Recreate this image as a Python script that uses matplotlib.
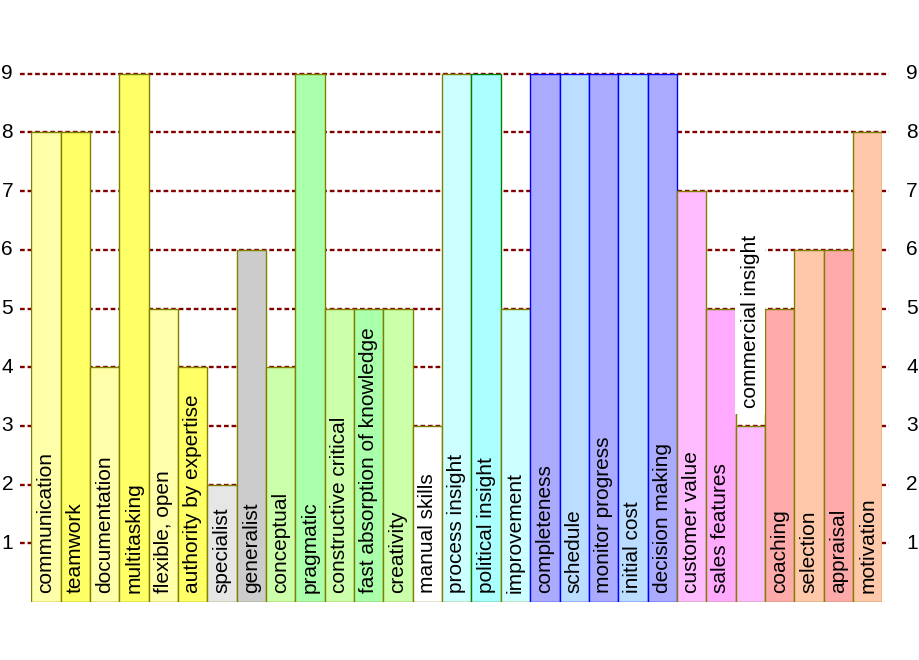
import matplotlib
matplotlib.use("Agg")
import matplotlib.pyplot as plt

# Skills and scores (0-9)
skills = ["communication", "teamwork", "documentation", "multitasking",
          "flexible, open", "authority by expertise", "specialist",
          "generalist", "conceptual", "pragmatic", "constructive critical",
          "fast absorption of knowledge", "creativity", "manual skills",
          "process insight", "political insight", "improvement",
          "completeness", "schedule", "monitor progress", "initial cost",
          "decision making", "customer value", "sales features",
          "commercial insight", "coaching", "selection", "appraisal",
          "motivation"]
scores = [8, 8, 4, 9, 5, 4, 2, 6, 4, 9, 5, 5, 5, 3, 9, 9, 5,
          9, 9, 9, 9, 9, 7, 5, 3, 5, 6, 6, 8]
fills = ["#FFFFAA", "#FFFF66", "#FFFFAA", "#FFFF66", "#FFFFAA", "#FFFF66",
         "#E6E6E6", "#CCCCCC", "#CCFFAA", "#AAFFAA", "#CCFFAA", "#AAFFAA",
         "#CCFFAA", "#FFFFFF", "#CCFFFF", "#AAFFFF", "#CCFFFF",
         "#AAAAFF", "#BBDDFF", "#AAAAFF", "#BBDDFF", "#AAAAFF",
         "#FFBBFF", "#FFAAFF", "#FFBBFF", "#FFAAAA", "#FFC8AA", "#FFAAAA",
         "#FFC8AA"]
edges = ["#808000"] * 15 + ["#008000", "#808000"] + ["#0000FF"] * 5 + ["#808000"] * 7
yticks = [1, 2, 3, 4, 5, 6, 7, 8, 9]

plt.rcParams["font.family"] = ["Liberation Sans", "DejaVu Sans"]

fig = plt.figure(figsize=(9.2, 6.6), dpi=100)
ax = fig.add_axes([31.3 / 920, 58 / 660, 851 / 920, 587 / 660])
ax.set_xlim(-0.5, len(skills) - 0.5)
ax.set_ylim(0, 10)
ax.axis("off")

# dotted grid lines, running out past the bars towards the tick labels
for v in yticks:
    ax.plot([-0.885, len(skills) - 0.27], [v, v], color="#800000", lw=1.7,
            dashes=(2, 1.2), clip_on=False, zorder=1)
    ax.text(-1.12, v, str(v), ha="right", va="center", fontsize=15)
    ax.text(len(skills) + 0.31, v, str(v), ha="left", va="center", fontsize=15)

x = list(range(len(skills)))
ax.bar(x, scores, width=1.0, color=fills, edgecolor=edges, linewidth=1,
       zorder=2)

# labels inside the bar, or on top (on a white patch) if they do not fit
renderer = fig.canvas.get_renderer()
px_per_unit = ax.transData.transform((0, 1))[1] - ax.transData.transform((0, 0))[1]
for i, (name, s) in enumerate(zip(skills, scores)):
    t = ax.text(i, 0.15, name, rotation=90, ha="center", va="bottom",
                fontsize=15, zorder=3)
    h = t.get_window_extent(renderer).height / px_per_unit
    if h + 0.15 > s:
        t.set_y(s + 0.3)
        t.set_bbox(dict(facecolor="white", edgecolor="none", pad=4))

fig.savefig("out.png", dpi=100)
